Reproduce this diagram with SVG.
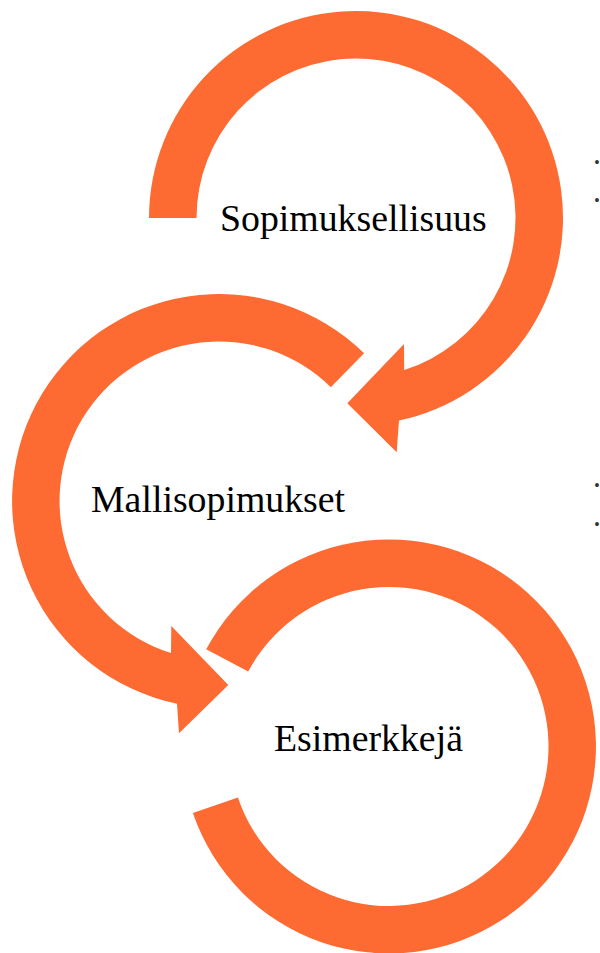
<svg xmlns="http://www.w3.org/2000/svg" width="600" height="953" viewBox="0 0 600 953">
<style>
.arrow{fill:#FD6A32;stroke:none}
.lbl{font-family:"Liberation Serif","Times New Roman",serif;font-size:37.8px;fill:#000}
.bul{font-family:"Liberation Sans",Arial,sans-serif;font-size:14px;fill:#333}
</style>
<rect width="600" height="953" fill="#fff"/>
<g id="connectors">
<path id="arrow1" class="arrow" d="M149 218 A207 207 0 1 1 399 420.5 L396.7 452.3 L347.3 403.3 L404 344 L404.2 370 A159.5 159.5 0 1 0 196.5 218 Z"/>
<path id="arrow2" class="arrow" d="M364.1 353.3 A207 207 0 1 0 177 703.7 L179 733.3 L228.3 685 L171.3 626 L171 653.1 A159.5 159.5 0 1 1 330.8 387.2 Z"/>
<path id="arrow3" class="arrow" d="M206.2 649.3 A207 207 0 1 1 192.9 812.9 L237.9 797.6 A159.5 159.5 0 1 0 248.2 671.6 Z"/>
</g>
<g id="node1"><text class="lbl" x="220" y="230.7">Sopimuksellisuus</text></g>
<g id="node2"><text class="lbl" x="91" y="512.3">Mallisopimukset</text></g>
<g id="node3"><text class="lbl" x="274" y="750.7">Esimerkkejä</text></g>
<g id="bullets">
<text class="bul" x="594.5" y="167">•</text>
<text class="bul" x="594.5" y="204.5">•</text>
<text class="bul" x="594.5" y="490">•</text>
<text class="bul" x="594.5" y="529">•</text>
</g>
</svg>
